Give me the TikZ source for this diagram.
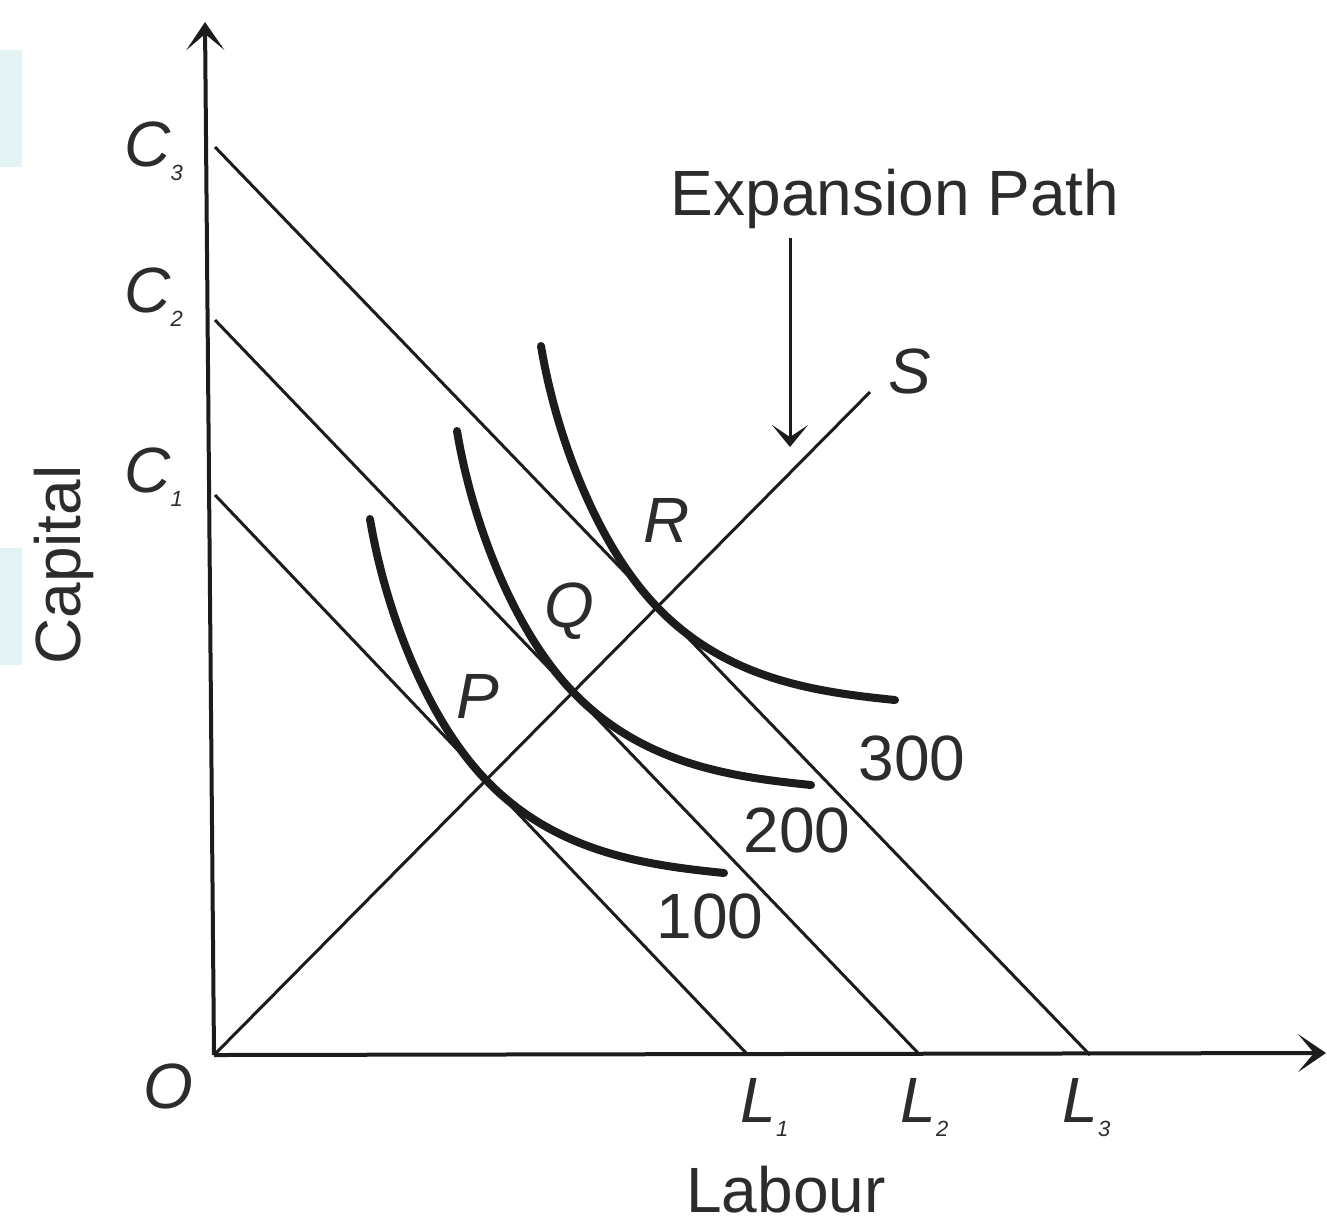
\documentclass[tikz,border=0pt]{standalone}
\usepackage{fontspec}
\setmainfont{Liberation Sans}
\usetikzlibrary{arrows.meta,calc}
\definecolor{ink}{HTML}{1C1C1C}
\definecolor{txt}{HTML}{2C2C2C}
\definecolor{tint}{HTML}{E3F3F3}
\newcommand{\lowsub}[1]{\raisebox{-7pt}{\fontsize{11}{11}\selectfont #1}}
\begin{document}
\begin{tikzpicture}[x=0.5pt,y=-0.5pt,
  axis/.style={line width=2pt, draw=ink},
  budget/.style={line width=1.5pt, draw=ink},
  isoq/.style={line width=4pt, draw=ink, line cap=round},
  lbl/.style={text=txt, inner sep=0pt, font=\fontsize{32}{32}\selectfont},
  itl/.style={text=txt, inner sep=0pt, font=\fontsize{32}{32}\selectfont\itshape},
  axtip/.style={-{Stealth[length=14pt,width=19pt,inset=8pt]}},
  eptip/.style={-{Stealth[length=11pt,width=18pt,inset=6pt]}}]
\useasboundingbox (0,0) rectangle (1327,1223);
\fill[white] (0,0) rectangle (1327,1223);
% background tints at left edge
\fill[tint] (0,50) rectangle (22,167);
\fill[tint] (0,548) rectangle (22,665);

% coordinates
\coordinate (O) at (214,1055);
\coordinate (Ytop) at (205,22);
\coordinate (Xend) at (1326,1053);
\coordinate (C3) at (215,147);
\coordinate (C2) at (215,320);
\coordinate (C1) at (215,495);
\coordinate (L1) at (748,1055);
\coordinate (L2) at (920,1055);
\coordinate (L3) at (1090,1055);
\coordinate (Send) at (870,392);
\coordinate (ArrTop) at (790,238);
\coordinate (ArrTip) at (790,447);
\coordinate (T1) at (486,780);
\coordinate (T2) at (573,692);
\coordinate (T3) at (657,607);

% axes
\draw[axis,axtip] (O) -- (Ytop);
\draw[axis,axtip] (O) -- (Xend);

% budget (isocost) lines
\draw[budget] (C3) -- (L3);
\draw[budget] (C2) -- (L2);
\draw[budget] (C1) -- (L1);

% expansion path
\draw[budget] (O) -- (Send);
\draw[line width=1.5pt, draw=ink, eptip] (ArrTop) -- (ArrTip);

% isoquants
\foreach \T in {T1,T2,T3}{
  \draw[isoq] ($(\T)+(-116,-261)$) .. controls ($(\T)+(-101,-171)$) and ($(\T)+(-60,-62)$) .. (\T)
     .. controls ($(\T)+(70,73)$) and ($(\T)+(160,85)$) .. ($(\T)+(238,93)$);
}

% labels
\node[lbl, anchor=base] (ep) at (895,215) {Expansion Path};
\node[itl, anchor=base] (S) at (910,393) {S};
\node[itl, anchor=base] (R) at (667,542) {R};
\node[itl, anchor=base] (Q) at (569,627) {Q};
\node[itl, anchor=base] (P) at (478,718) {P};
\node[lbl, anchor=base] (n300) at (912,780) {300};
\node[lbl, anchor=base] (n200) at (797,852) {200};
\node[lbl, anchor=base] (n100) at (710,938) {100};
\node[itl, anchor=base west] (lC3) at (124,166) {C\lowsub{3}};
\node[itl, anchor=base west] (lC2) at (124,312) {C\lowsub{2}};
\node[itl, anchor=base west] (lC1) at (124,492) {C\lowsub{1}};
\node[itl, anchor=base west] (lL1) at (740,1122) {L\lowsub{1}};
\node[itl, anchor=base west] (lL2) at (900,1122) {L\lowsub{2}};
\node[itl, anchor=base west] (lL3) at (1062,1122) {L\lowsub{3}};
\node[itl, anchor=base] (lO) at (168,1108) {O};
\node[lbl, anchor=base] (lab) at (786,1212) {Labour};
\node[lbl, anchor=base, rotate=90] (cap) at (80,565) {Capital};
\end{tikzpicture}
\end{document}
